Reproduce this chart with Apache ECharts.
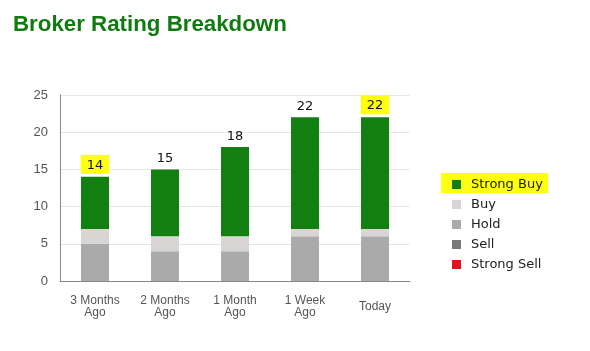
<!DOCTYPE html>
<html>
<head>
<meta charset="utf-8">
<script src="https://cdn.jsdelivr.net/npm/echarts@6/dist/echarts.min.js"></script>
<style>
  html, body { margin: 0; padding: 0; background: #fff; }
  #chart { width: 590px; height: 351px; }
</style>
</head>
<body>
<div id="chart"></div>
<script>
const categories = ["3 Months\nAgo", "2 Months\nAgo", "1 Month\nAgo", "1 Week\nAgo", "Today"];
const hold = [5, 4, 4, 6, 6];
const buy = [2, 2, 2, 1, 1];
const strongBuy = [7, 9, 12, 15, 15];
const sell = [0, 0, 0, 0, 0];
const strongSell = [0, 0, 0, 0, 0];
const yTicks = [0, 5, 10, 15, 20, 25];

const totals = categories.map((c, i) => hold[i] + buy[i] + strongBuy[i] + sell[i] + strongSell[i]);
const marked = [0, 4]; // labels with yellow highlight

const chart = echarts.init(document.getElementById("chart"));

const plainLabel = {
    show: true,
    position: "top",
    distance: 4,
    color: "#111",
    fontFamily: "DejaVu Sans",
    fontSize: 13,
    formatter: (p) => totals[p.dataIndex],
};

const option = {
    animation: false,
    title: {
        text: "Broker Rating Breakdown",
        left: 8,
        top: 9,
        textStyle: {
            fontFamily: "Liberation Sans",
            fontWeight: "bold",
            fontSize: 22.3,
            color: "#117a11",
        },
    },
    graphic: [
        {
            type: "rect",
            left: 441,
            top: 173,
            shape: { width: 107, height: 20 },
            style: { fill: "#ffff10" },
            z: -1,
        },
    ],
    legend: {
        orient: "vertical",
        left: 447,
        top: 173,
        itemWidth: 9,
        itemHeight: 9,
        itemGap: 7,
        icon: "rect",
        textStyle: {
            fontFamily: "DejaVu Sans",
            fontSize: 13,
            color: "#222",
            padding: [0, 0, 0, 5],
        },
        data: ["Strong Buy", "Buy", "Hold", "Sell", "Strong Sell"],
    },
    grid: {
        left: 60,
        right: 180,
        top: 95,
        bottom: 70,
    },
    xAxis: {
        type: "category",
        // single-line labels sit in the middle of the two-line band
        data: categories.map((c) =>
            c.includes("\n") ? c : { value: c, textStyle: { padding: [6, 0, 0, 0] } }
        ),
        axisTick: { show: false },
        axisLine: { lineStyle: { color: "#888" } },
        axisLabel: {
            color: "#555",
            fontFamily: "Liberation Sans",
            fontSize: 12,
            lineHeight: 12,
            margin: 14,
            interval: 0,
        },
    },
    yAxis: {
        type: "value",
        min: yTicks[0],
        max: yTicks[yTicks.length - 1],
        interval: 5,
        axisLine: { show: true, lineStyle: { color: "#888" } },
        axisTick: { show: false },
        splitLine: { lineStyle: { color: "#e6e6e6" } },
        axisLabel: {
            color: "#555",
            fontFamily: "Liberation Sans",
            fontSize: 13,
            margin: 12,
        },
    },
    series: [
        {
            name: "Hold",
            type: "bar",
            stack: "r",
            barWidth: "40%",
            itemStyle: { color: "#aaaaaa" },
            data: hold,
        },
        {
            name: "Buy",
            type: "bar",
            stack: "r",
            itemStyle: { color: "#d9d5d5" },
            data: buy,
        },
        {
            name: "Strong Buy",
            type: "bar",
            stack: "r",
            itemStyle: { color: "#118011" },
            label: plainLabel,
            data: strongBuy.map((v, i) =>
                marked.includes(i)
                    ? {
                          value: v,
                          label: {
                              backgroundColor: "#ffff10",
                              padding: [4, 6, 2, 6],
                              distance: 3,
                          },
                      }
                    : v
            ),
        },
        {
            name: "Sell",
            type: "bar",
            stack: "r",
            itemStyle: { color: "#7a7a7a" },
            data: sell,
        },
        {
            name: "Strong Sell",
            type: "bar",
            stack: "r",
            itemStyle: { color: "#e0141c" },
            data: strongSell,
        },
    ],
};

chart.setOption(option);
</script>
</body>
</html>
